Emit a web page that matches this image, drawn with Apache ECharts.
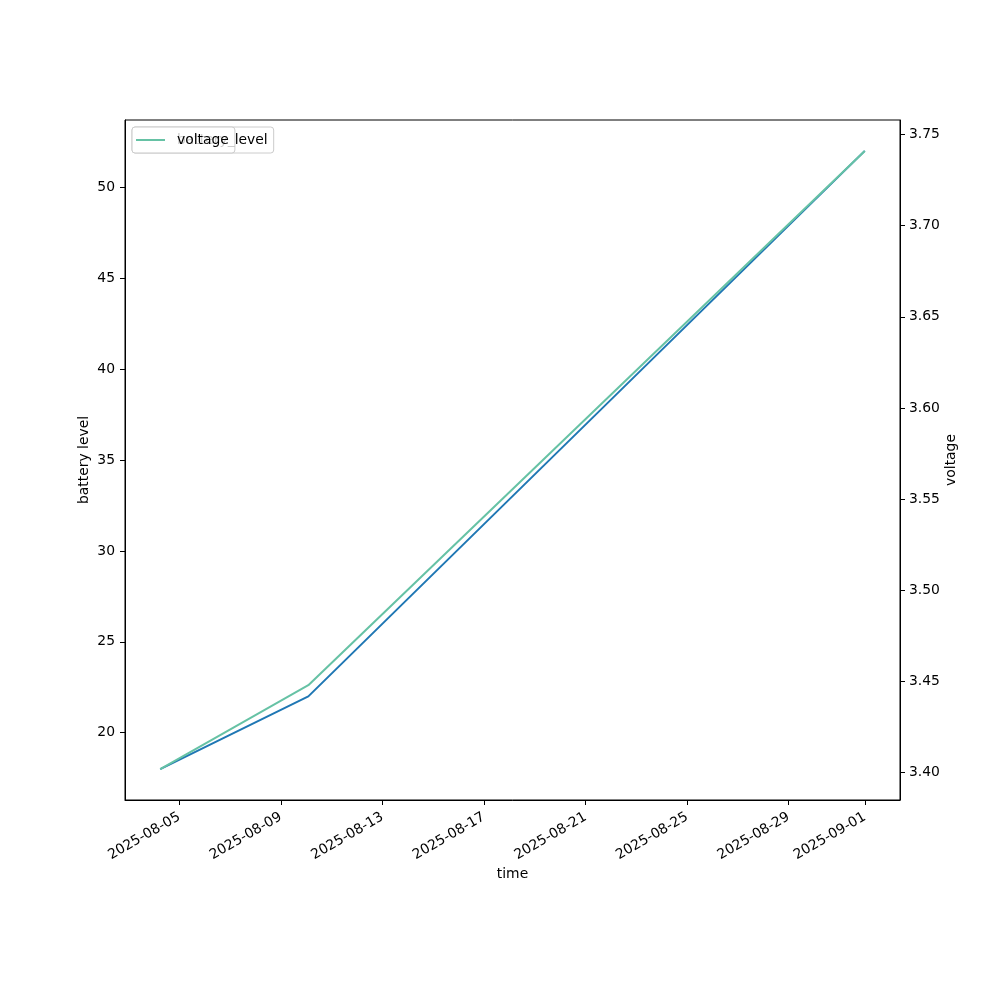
<!DOCTYPE html>
<html>
<head>
<meta charset="utf-8">
<script src="https://cdn.jsdelivr.net/npm/echarts@6/dist/echarts.min.js"></script>
<style>html,body{margin:0;padding:0;background:#fff}#c{width:1000px;height:1000px}</style>
</head>
<body>
<div id="c"></div>
<script>
var times = ['2025-08-04T06:00:00', '2025-08-10T02:00:00', '2025-09-01T00:00:00'];
var batteryLevel = [18, 22, 52];
var voltage = [3.402, 3.448, 3.741];
var xTickLabels = ['2025-08-05', '2025-08-09', '2025-08-13', '2025-08-17', '2025-08-21', '2025-08-25', '2025-08-29', '2025-09-01'];
var leftTicks = [20, 25, 30, 35, 40, 45, 50];
var rightTicks = [3.40, 3.45, 3.50, 3.55, 3.60, 3.65, 3.70, 3.75];

function ts(s) { return new Date(s).getTime(); }
function pad(arr) {
  var mn = Math.min.apply(null, arr), mx = Math.max.apply(null, arr);
  var m = (mx - mn) * 0.05;
  return [mn - m, mx + m];
}
var tVals = times.map(ts);
var xr = pad(tVals), lr = pad(batteryLevel), rr = pad(voltage);
var xTicks = xTickLabels.map(function (d) { return ts(d + 'T00:00:00'); });
function fmtDate(v) {
  var d = new Date(v);
  var m = d.getMonth() + 1, day = d.getDate();
  return d.getFullYear() + '-' + (m < 10 ? '0' : '') + m + '-' + (day < 10 ? '0' : '') + day;
}
var FONT = 'DejaVu Sans';
var FS = 13.9;
var axisCommon = {
  axisLine: { show: true, lineStyle: { color: '#000', width: 1 } },
  axisTick: { show: true, inside: false, length: 5, lineStyle: { color: '#000', width: 1 } },
  splitLine: { show: false },
  nameMoveOverlap: false,
  nameTextStyle: { color: '#000', fontFamily: FONT, fontSize: FS }
};
function legendOpt(name, z) {
  return {
    data: [name], left: 132, top: 127, orient: 'vertical',
    backgroundColor: 'rgba(255,255,255,0.8)', borderColor: '#cccccc', borderWidth: 1, borderRadius: 3,
    padding: [6, 6, 6, 4], icon: 'rect', itemWidth: 29, itemHeight: 2, z: z,
    textStyle: { color: '#000', fontFamily: FONT, fontSize: FS, padding: [0, 0, 0, 7] }
  };
}
var chart = echarts.init(document.getElementById('c'), null, { renderer: 'canvas' });
chart.setOption({
  animation: false,
  backgroundColor: '#fff',
  grid: { left: 125, right: 100, top: 120, bottom: 200, show: true, borderColor: '#000', borderWidth: 1, backgroundColor: 'transparent' },
  legend: [legendOpt('battery_level', 5), legendOpt('voltage', 6)],
  xAxis: Object.assign({}, axisCommon, {
    type: 'value', min: xr[0], max: xr[1],
    name: 'time', nameLocation: 'middle', nameGap: 67,
    axisTick: Object.assign({}, axisCommon.axisTick, { customValues: xTicks }),
    axisLabel: { customValues: xTicks, rotate: 30, margin: 16, color: '#000', fontFamily: FONT, fontSize: FS, formatter: function (v) { return fmtDate(v); } }
  }),
  yAxis: [
    Object.assign({}, axisCommon, {
      type: 'value', position: 'left', min: lr[0], max: lr[1],
      name: 'battery level', nameLocation: 'middle', nameGap: 34,
      axisTick: Object.assign({}, axisCommon.axisTick, { customValues: leftTicks }),
      axisLabel: { customValues: leftTicks, margin: 10, color: '#000', fontFamily: FONT, fontSize: FS, formatter: function (v) { return String(Math.round(v)); } }
    }),
    Object.assign({}, axisCommon, {
      type: 'value', position: 'right', min: rr[0], max: rr[1],
      name: 'voltage', nameLocation: 'middle', nameGap: 44,
      axisTick: Object.assign({}, axisCommon.axisTick, { customValues: rightTicks }),
      axisLabel: { customValues: rightTicks, margin: 9, color: '#000', fontFamily: FONT, fontSize: FS, formatter: function (v) { return v.toFixed(2); } }
    })
  ],
  series: [
    {
      name: 'battery_level', type: 'line', yAxisIndex: 0, symbol: 'none', showSymbol: false,
      data: tVals.map(function (t, i) { return [t, batteryLevel[i]]; }),
      lineStyle: { color: '#1f77b4', width: 2 }, itemStyle: { color: '#1f77b4' }, z: 2
    },
    {
      name: 'voltage', type: 'line', yAxisIndex: 1, symbol: 'none', showSymbol: false,
      data: tVals.map(function (t, i) { return [t, voltage[i]]; }),
      lineStyle: { color: '#66c2a5', width: 2 }, itemStyle: { color: '#66c2a5' }, z: 3
    }
  ]
});
</script>
</body>
</html>
